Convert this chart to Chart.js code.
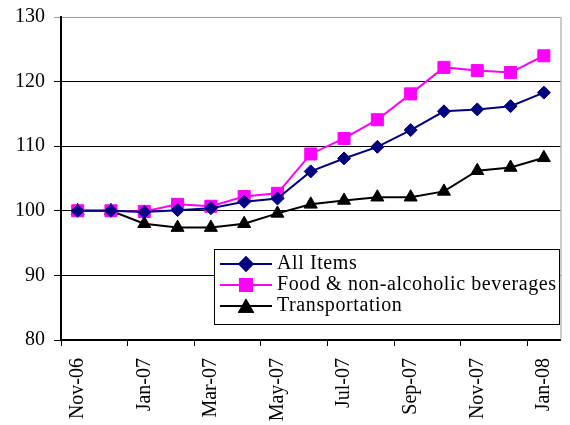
<!DOCTYPE html>
<html>
<head>
<meta charset="utf-8">
<script src="https://cdn.jsdelivr.net/npm/chart.js@4/dist/chart.umd.min.js"></script>
<style>
  body { margin: 0; background: #fff; }
</style>
</head>
<body>
<canvas id="chart" width="570" height="425"></canvas>
<script>
// data
const months = ['Nov-06', 'Dec-06', 'Jan-07', 'Feb-07', 'Mar-07', 'Apr-07', 'May-07', 'Jun-07',
  'Jul-07', 'Aug-07', 'Sep-07', 'Oct-07', 'Nov-07', 'Dec-07', 'Jan-08'];
const allItems = [100, 100, 99.8, 100.1, 100.4, 101.4, 101.9, 106.1, 108.1, 109.9, 112.5, 115.4, 115.7, 116.2, 118.3];
const food = [100, 100, 99.9, 101.0, 100.7, 102.2, 102.7, 108.8, 111.2, 114.1, 118.1, 122.2, 121.7, 121.4, 124.0];
const transport = [100, 100, 98.0, 97.4, 97.4, 98.0, 99.6, 101.0, 101.6, 102.1, 102.1, 103.0, 106.2, 106.7, 108.2];
const seriesNames = ['All Items', 'Food & non-alcoholic beverages', 'Transportation'];

const font = 'Liberation Serif, Times New Roman, serif';

// legend drawn inside the plot, like the original
const boxLegend = {
  id: 'boxLegend',
  afterDraw(chart) {
    const ctx = chart.ctx;
    ctx.save();
    ctx.fillStyle = '#fff';
    ctx.strokeStyle = '#000';
    ctx.lineWidth = 1;
    ctx.fillRect(214.5, 249.5, 345, 75);
    ctx.strokeRect(214.5, 249.5, 345, 75);
    ctx.font = '20px ' + font;
    ctx.letterSpacing = '0.6px';
    ctx.textBaseline = 'middle';
    chart.data.datasets.forEach((ds, i) => {
      const y = 264 + i * 21;
      ctx.strokeStyle = ds.borderColor;
      ctx.lineWidth = 2;
      ctx.beginPath();
      ctx.moveTo(220, y);
      ctx.lineTo(272, y);
      ctx.stroke();
      Chart.helpers.drawPoint(ctx, {
        pointStyle: ds.pointStyle, radius: ds.pointRadius, borderWidth: 1, rotation: 0
      }, 246, y + (ds.pointStyle === 'triangle' ? 2 : 0));
      ctx.fillStyle = ds.pointBackgroundColor;
      ctx.strokeStyle = ds.pointBorderColor;
      ctx.fill();
      ctx.stroke();
      ctx.fillStyle = '#000';
      ctx.fillText(seriesNames[i], 277, y);
    });
    // grey right edge of the plot area
    const a = chart.chartArea;
    ctx.strokeStyle = '#999';
    ctx.lineWidth = 1;
    ctx.beginPath();
    ctx.moveTo(a.right + 0.5, a.top);
    ctx.lineTo(a.right + 0.5, a.bottom);
    ctx.stroke();
    ctx.restore();
  }
};

function makeSet(label, values, color, style, radius) {
  return {
    label: label,
    data: values,
    borderColor: color,
    borderWidth: 2,
    pointStyle: style,
    pointRadius: radius,
    pointHoverRadius: radius,
    pointBackgroundColor: color,
    pointBorderColor: color,
    pointBorderWidth: 1,
    tension: 0
  };
}

new Chart(document.getElementById('chart').getContext('2d'), {
  type: 'line',
  data: {
    labels: months,
    datasets: [
      makeSet(seriesNames[0], allItems, '#000080', 'rectRot', 6.5),
      makeSet(seriesNames[1], food, '#ff00ff', 'rect', 8.5),
      makeSet(seriesNames[2], transport, '#000000', 'triangle', 7.5)
    ]
  },
  options: {
    responsive: false,
    animation: false,
    layout: { padding: { top: 17, right: 1 } },
    plugins: { legend: { display: false }, tooltip: { enabled: false } },
    scales: {
      x: {
        offset: true,
        afterFit: s => { s.height = 85; s.paddingLeft = 0; s.paddingRight = 0; },
        grid: {
          offset: true,
          drawOnChartArea: false,
          tickLength: 6,
          color: c => (c.index % 2 === 0 ? '#000' : 'rgba(0,0,0,0)')
        },
        border: { color: '#000', width: 2 },
        ticks: {
          autoSkip: false,
          minRotation: 90,
          maxRotation: 90,
          padding: 12,
          color: '#000',
          font: { family: font, size: 20 },
          callback: (v, i) => (i % 2 === 0 ? months[i] : '')
        }
      },
      y: {
        min: 80,
        max: 130,
        afterFit: s => { s.width = 61; s.paddingTop = 0; s.paddingBottom = 0; },
        grid: {
          tickLength: 7,
          color: c => (c.tick && c.tick.value === 130 ? '#999' : '#000')
        },
        border: { color: '#000', width: 2 },
        ticks: {
          stepSize: 10,
          padding: 9,
          color: '#000',
          font: { family: font, size: 20 }
        }
      }
    }
  },
  plugins: [boxLegend]
});
</script>
</body>
</html>
